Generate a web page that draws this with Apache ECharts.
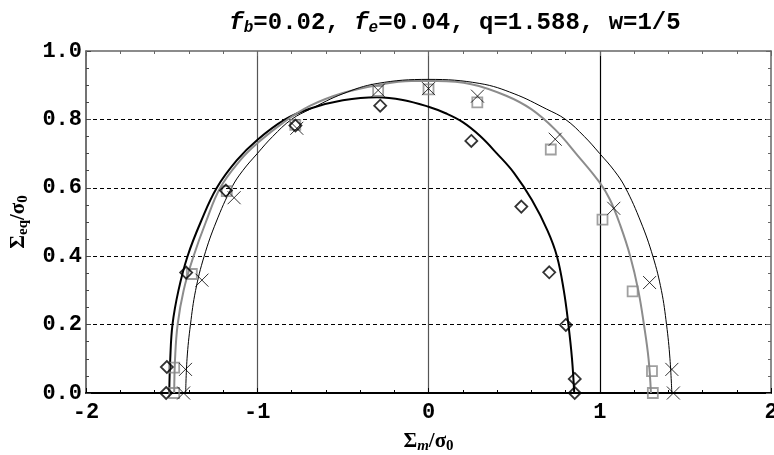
<!DOCTYPE html>
<html>
<head>
<meta charset="utf-8">
<script src="https://cdn.jsdelivr.net/npm/echarts@6/dist/echarts.min.js"></script>
<style>
  html, body { margin: 0; padding: 0; background: #fff; }
  #main { width: 774px; height: 455px; }
</style>
</head>
<body>
<div id="main"></div>
<script>
// yield curves, [Σm/σ0, Σeq/σ0], read along the arc from left foot over the top to right foot
var curveThick = [
  [-1.514, 0], [-1.508, 0.1], [-1.495, 0.2], [-1.46, 0.3], [-1.407, 0.4], [-1.33, 0.5],
  [-1.236, 0.6], [-1.12, 0.68], [-1.0, 0.74], [-0.837, 0.80], [-0.69, 0.832], [-0.5, 0.856],
  [-0.3, 0.865], [-0.15, 0.857], [0, 0.837], [0.1, 0.818], [0.2, 0.792], [0.3, 0.752],
  [0.4, 0.70], [0.5, 0.643], [0.604, 0.564], [0.695, 0.475], [0.75, 0.4], [0.79, 0.3],
  [0.817, 0.2], [0.838, 0.1], [0.851, 0]
];
var curveGray = [
  [-1.485, 0], [-1.48, 0.1], [-1.465, 0.2], [-1.43, 0.3], [-1.372, 0.4], [-1.30, 0.5],
  [-1.216, 0.6], [-1.10, 0.68], [-1.0, 0.73], [-0.85, 0.79], [-0.69, 0.84], [-0.5, 0.877],
  [-0.3, 0.90], [-0.1, 0.912], [0.05, 0.912], [0.25, 0.903], [0.45, 0.87], [0.6, 0.83],
  [0.74, 0.77], [0.87, 0.695], [1.0, 0.615], [1.06, 0.565], [1.12, 0.49], [1.178, 0.4],
  [1.225, 0.3], [1.258, 0.2], [1.285, 0.1], [1.299, 0]
];
var curveThin = [
  [-1.418, 0], [-1.41, 0.1], [-1.39, 0.2], [-1.36, 0.3], [-1.31, 0.4], [-1.24, 0.5],
  [-1.15, 0.6], [-1.085, 0.65], [-1.0, 0.70], [-0.91, 0.75], [-0.80, 0.80], [-0.69, 0.83],
  [-0.5, 0.875], [-0.3, 0.905], [0, 0.917], [0.3, 0.905], [0.5, 0.875], [0.69, 0.83],
  [0.80, 0.80], [0.91, 0.75], [1.0, 0.70], [1.085, 0.65], [1.15, 0.6], [1.24, 0.5],
  [1.31, 0.4], [1.36, 0.3], [1.39, 0.2], [1.41, 0.1], [1.421, 0]
];

// measured points
var ptsDiamond = [
  [-1.532, 0.0], [-1.528, 0.076], [-1.415, 0.352], [-1.183, 0.592], [-0.777, 0.782],
  [-0.282, 0.840], [0.25, 0.737], [0.542, 0.545], [0.705, 0.353], [0.802, 0.199],
  [0.854, 0.041], [0.854, 0.0]
];
var ptsSquare = [
  [-1.485, 0.0], [-1.485, 0.074], [-1.382, 0.348], [-1.178, 0.59], [-0.778, 0.784],
  [-0.294, 0.883], [0, 0.888], [0.285, 0.850], [0.714, 0.712], [1.016, 0.507],
  [1.192, 0.297], [1.305, 0.064], [1.31, 0.0]
];
var ptsCross = [
  [-1.43, 0.0], [-1.419, 0.069], [-1.323, 0.330], [-1.135, 0.571], [-0.769, 0.774],
  [-0.294, 0.885], [0, 0.89], [0.286, 0.868], [0.74, 0.742], [1.082, 0.540],
  [1.291, 0.323], [1.421, 0.069], [1.43, 0.0]
];

var chart = echarts.init(document.getElementById('main'));

var mono = 'Liberation Mono';
var tickLbl = { fontFamily: mono, fontWeight: 'bold', fontSize: 22, color: '#000' };

function frameAxis(pos, color) {
  var horiz = pos === 'top';
  return {
    type: 'value', position: pos,
    min: horiz ? -2 : 0, max: horiz ? 2 : 1, interval: horiz ? 1 : 0.2,
    axisLine: { show: true, onZero: false, lineStyle: { color: color, width: 1.5 } },
    axisTick: { show: true, inside: true, length: 5, lineStyle: { color: color } },
    minorTick: { show: true, splitNumber: horiz ? 5 : 4, length: 3, lineStyle: { color: color } },
    axisLabel: { show: false },
    splitLine: { show: false }
  };
}

var nameRich = {
  s: { fontFamily: 'Liberation Serif', fontWeight: 'bold', fontSize: 21, color: '#000' },
  si: { fontFamily: 'Liberation Serif', fontWeight: 'bold', fontStyle: 'italic', fontSize: 15, color: '#000', verticalAlign: 'bottom', padding: [9, 0, 0, 0] },
  su: { fontFamily: 'Liberation Serif', fontWeight: 'bold', fontSize: 15, color: '#000', verticalAlign: 'bottom', padding: [9, 0, 0, 0] },
  sn: { fontFamily: 'Liberation Serif', fontWeight: 'bold', fontSize: 15, color: '#000', verticalAlign: 'bottom', padding: [9, 0, 0, 0] }
};

var option = {
  animation: false,
  backgroundColor: '#fff',
  title: {
    left: 450, top: 5, textAlign: 'center',
    text: '{fi|f}{sub|b}{n|=0.02, }{fi|f}{sub|e}{n|=0.04, q=1.588, w=1/5}',
    textStyle: {
      rich: {
        n: { fontFamily: mono, fontWeight: 'bold', fontSize: 24, color: '#000' },
        fi: { fontFamily: mono, fontWeight: 'bold', fontStyle: 'italic', fontSize: 24, color: '#000' },
        sub: { fontFamily: mono, fontWeight: 'bold', fontStyle: 'italic', fontSize: 16, color: '#000', verticalAlign: 'bottom', padding: [10, 0, 0, 0] }
      }
    }
  },
  grid: { left: 86, right: 3, top: 51, bottom: 62, outerBoundsMode: 'none' },
  xAxis: [{
    type: 'value', min: -2, max: 2, interval: 1,
    name: '{s|Σ}{si|m}{s|/σ}{sn|0}', nameLocation: 'middle', nameGap: 37,
    nameTextStyle: { rich: nameRich },
    axisLine: { show: true, onZero: false, lineStyle: { color: '#000', width: 2 } },
    axisTick: { show: true, inside: true, length: 5, lineStyle: { color: '#000' } },
    minorTick: { show: true, splitNumber: 5, length: 3, lineStyle: { color: '#000' } },
    axisLabel: Object.assign({ margin: 8, formatter: function (v) { return v < 0 ? '-' + (-v) : '' + v; } }, tickLbl),
    splitLine: { show: true, showMinLine: false, showMaxLine: false,
      lineStyle: { color: ['#555', '#555', '#000', '#555', '#555'], width: 1.2 } }
  }, frameAxis('top', '#666')],
  yAxis: [{
    type: 'value', min: 0, max: 1, interval: 0.2,
    name: '{s|Σ}{su|eq}{s|/σ}{sn|0}', nameLocation: 'middle', nameGap: 55,
    nameTextStyle: { rich: nameRich },
    axisLine: { show: true, onZero: false, lineStyle: { color: '#444', width: 1.5 } },
    axisTick: { show: true, inside: true, length: 5, lineStyle: { color: '#444' } },
    minorTick: { show: true, splitNumber: 4, length: 3, lineStyle: { color: '#444' } },
    axisLabel: Object.assign({ margin: 4, formatter: function (v) { return v.toFixed(1); } }, tickLbl),
    splitLine: { show: true, showMinLine: false, showMaxLine: false,
      lineStyle: { color: '#000', type: [4, 3], width: 1 } }
  }, frameAxis('right', '#666')],
  series: [
    { type: 'line', data: curveThick, smooth: 0.4, showSymbol: false, lineStyle: { color: '#000', width: 2 }, z: 3 },
    { type: 'line', data: curveGray, smooth: 0.4, showSymbol: false, lineStyle: { color: '#8c8c8c', width: 2 }, z: 3 },
    { type: 'line', data: curveThin, smooth: 0.4, showSymbol: false, lineStyle: { color: '#000', width: 1 }, z: 3 },
    { type: 'scatter', data: ptsSquare, symbol: 'rect', symbolSize: 10, z: 4,
      itemStyle: { color: 'rgba(0,0,0,0)', borderColor: '#888', borderWidth: 1.8 } },
    { type: 'scatter', data: ptsDiamond, symbol: 'diamond', symbolSize: 12, z: 5,
      itemStyle: { color: 'rgba(0,0,0,0)', borderColor: '#000', borderWidth: 1.8 } },
    { type: 'scatter', data: ptsCross, symbol: 'path://M0,0L10,10M0,10L10,0', symbolSize: 13, z: 6,
      itemStyle: { color: 'none', borderColor: '#000', borderWidth: 1 } }
  ]
};

chart.setOption(option);
</script>
</body>
</html>
